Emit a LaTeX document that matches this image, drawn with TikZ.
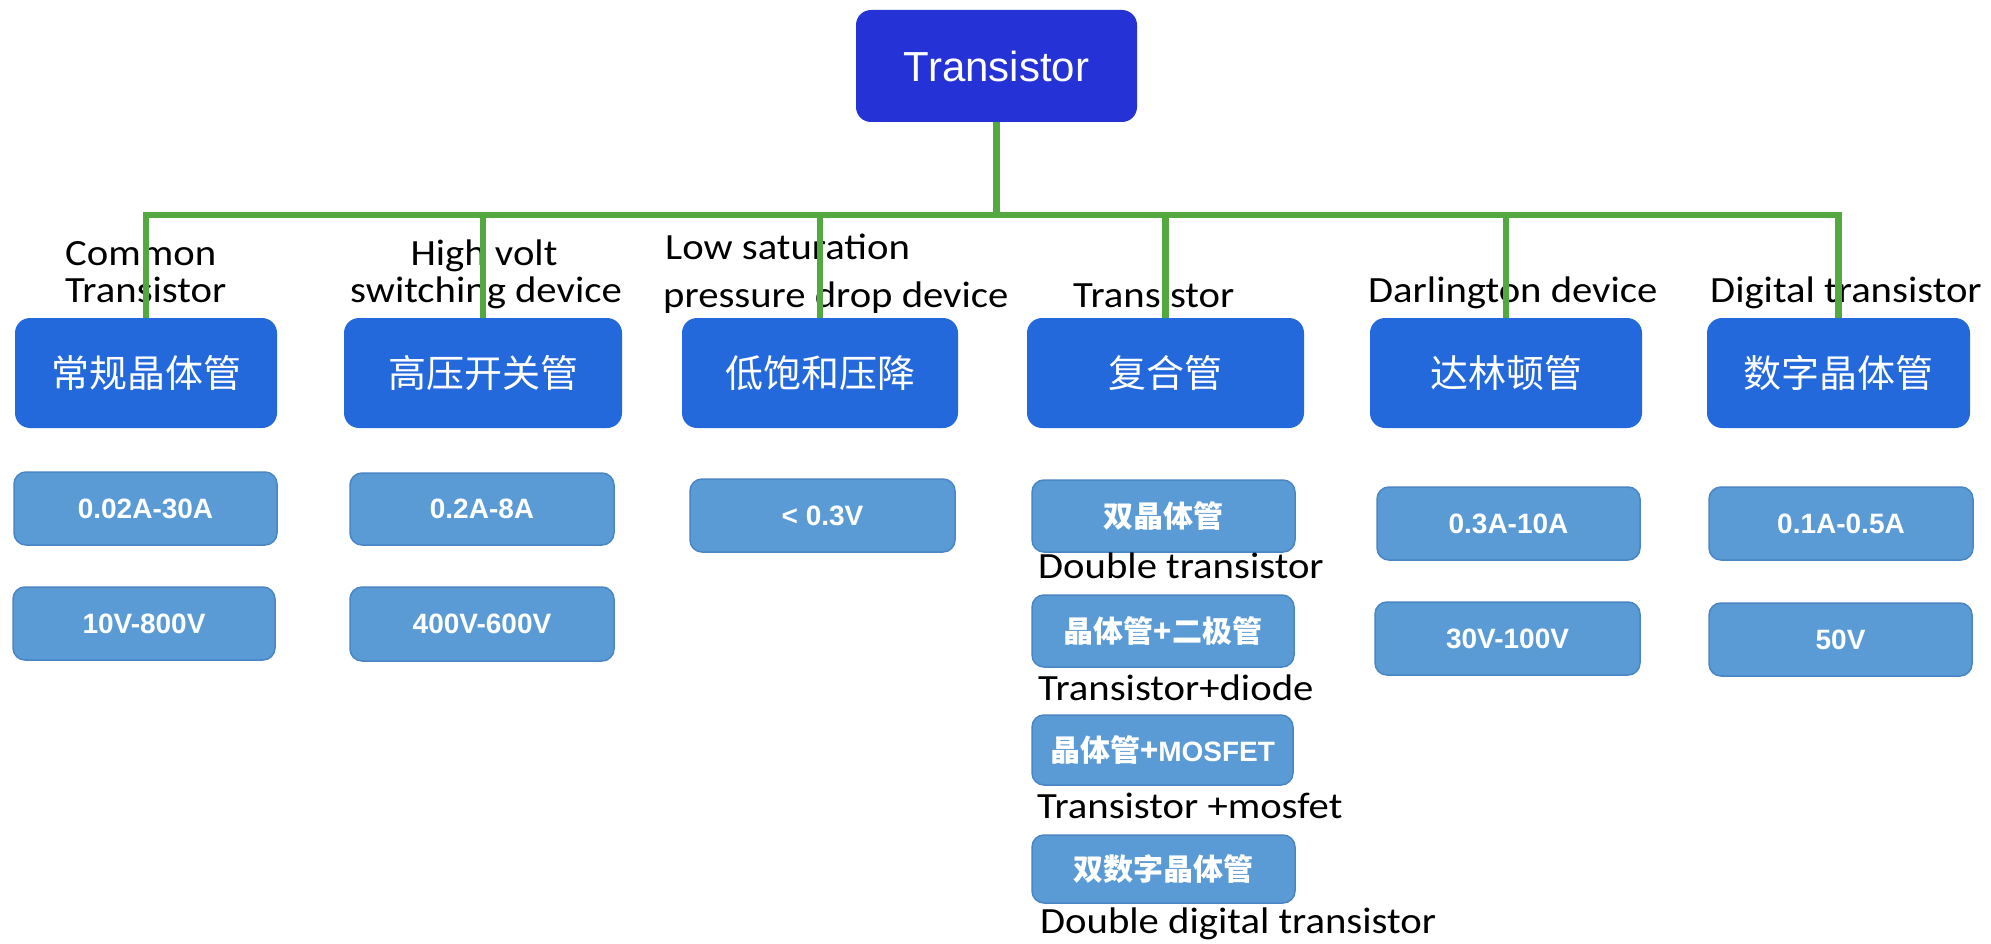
\documentclass[tikz,border=0pt]{standalone}
\usepackage{fontspec}
\setmainfont{Liberation Sans}
\newfontfamily\cjk{Noto Sans CJK SC}
\newfontfamily\lbl[FakeStretch=1.1]{Carlito}
\definecolor{topblue}{HTML}{2532D6}
\definecolor{midblue}{HTML}{2469DC}
\definecolor{lfill}{HTML}{5B9BD5}
\definecolor{ldraw}{HTML}{4A85C5}
\definecolor{lgreen}{HTML}{53A93F}
\begin{document}
\begin{tikzpicture}[x=1pt,y=-1pt,
  topbox/.style={fill=topblue, rounded corners=15pt, inner sep=0pt, text=white,
    font=\fontsize{42}{50}\selectfont},
  lone/.style={fill=midblue, rounded corners=15pt, inner sep=0pt, minimum height=110pt,
    text=white, font=\cjk\fontsize{38}{46}\selectfont},
  ltwo/.style={fill=lfill, draw=ldraw, line width=1.5pt, rounded corners=12pt, inner sep=0pt,
    text=white, font=\bfseries\fontsize{28}{34}\selectfont},
  ltwoc/.style={ltwo, font=\cjk\bfseries\fontsize{30}{36}\selectfont},
  lab/.style={inner sep=0pt, text=black, font=\lbl\fontsize{37}{44}\selectfont},
  conn/.style={draw=lgreen, line width=6.5pt}
]
\fill[white] (0,0) rectangle (1991,944);
\useasboundingbox (0,0) rectangle (1991,944);

% root
\node[topbox, minimum width=281pt, minimum height=112pt] (root) at (996.5,66) {Transistor};

% level 1
\node[lone, minimum width=262pt] (b1) at (146,373) {常规晶体管};
\node[lone, minimum width=278pt] (b2) at (483,373) {高压开关管};
\node[lone, minimum width=276pt] (b3) at (820,373) {低饱和压降};
\node[lone, minimum width=277pt] (b4) at (1165.5,373) {复合管};
\node[lone, minimum width=272pt] (b5) at (1506,373) {达林顿管};
\node[lone, minimum width=263pt] (b6) at (1838.5,373) {数字晶体管};

% level 2
\node[ltwo, minimum width=263pt, minimum height=73pt] (c1a) at (145.5,508.5) {0.02A-30A};
\node[ltwo, minimum width=262pt, minimum height=73pt] (c1b) at (144,623.5) {10V-800V};
\node[ltwo, minimum width=264pt, minimum height=72pt] (c2a) at (482,509) {0.2A-8A};
\node[ltwo, minimum width=264pt, minimum height=74pt] (c2b) at (482,624) {400V-600V};
\node[ltwo, minimum width=265pt, minimum height=73pt] (c3a) at (822.5,515.5) {< 0.3V};
\node[ltwoc, minimum width=263pt, minimum height=72pt] (c4a) at (1163.5,516) {双晶体管};
\node[ltwoc, minimum width=262pt, minimum height=72pt] (c4b) at (1163,631) {晶体管+二极管};
\node[ltwoc, minimum width=261pt, minimum height=70pt] (c4c) at (1162.5,750) {晶体管+{\rmfamily\bfseries\fontsize{28}{34}\selectfont MOSFET}};
\node[ltwoc, minimum width=263pt, minimum height=68pt] (c4d) at (1163.5,869) {双数字晶体管};
\node[ltwo, minimum width=263pt, minimum height=73pt] (c5a) at (1508.5,523.5) {0.3A-10A};
\node[ltwo, minimum width=265pt, minimum height=73pt] (c5b) at (1507.5,638.5) {30V-100V};
\node[ltwo, minimum width=264pt, minimum height=73pt] (c6a) at (1841,523.5) {0.1A-0.5A};
\node[ltwo, minimum width=263pt, minimum height=73pt] (c6b) at (1840.5,639.5) {50V};

% labels
\node[lab, anchor=base west] (t1a) at (65,265) {Common};
\node[lab, anchor=base west] (t1b) at (65,302) {Transistor};
\node[lab, anchor=base] (t2a) at (484,265) {High volt};
\node[lab, anchor=base] (t2b) at (486,302) {switching device};
\node[lab, anchor=base west] (t3a) at (665,259) {Low saturation};
\node[lab, anchor=base west] (t3b) at (663,307) {pressure drop device};
\node[lab, anchor=base west] (t4) at (1073,307) {Transistor};
\node[lab, anchor=base west] (t5) at (1368,302) {Darlington device};
\node[lab, anchor=base west] (t6) at (1710,302) {Digital transistor};
\node[lab, anchor=base west] (u1) at (1038,578) {Double transistor};
\node[lab, anchor=base west] (u2) at (1038,700) {Transistor+diode};
\node[lab, anchor=base west] (u3) at (1037,818) {Transistor +mosfet};
\node[lab, anchor=base west] (u4) at (1040,933) {Double digital transistor};

% connectors
\coordinate (bus) at (0,215);
\draw[conn] (root.south) -- (root.south |- bus);
\draw[conn, line join=miter] (b1.north) -- (b1.north |- bus) -- (b6.north |- bus) -- (b6.north);
\foreach \n in {b2,b3,b4,b5} \draw[conn] (\n.north |- bus) -- (\n.north);
\end{tikzpicture}
\end{document}
